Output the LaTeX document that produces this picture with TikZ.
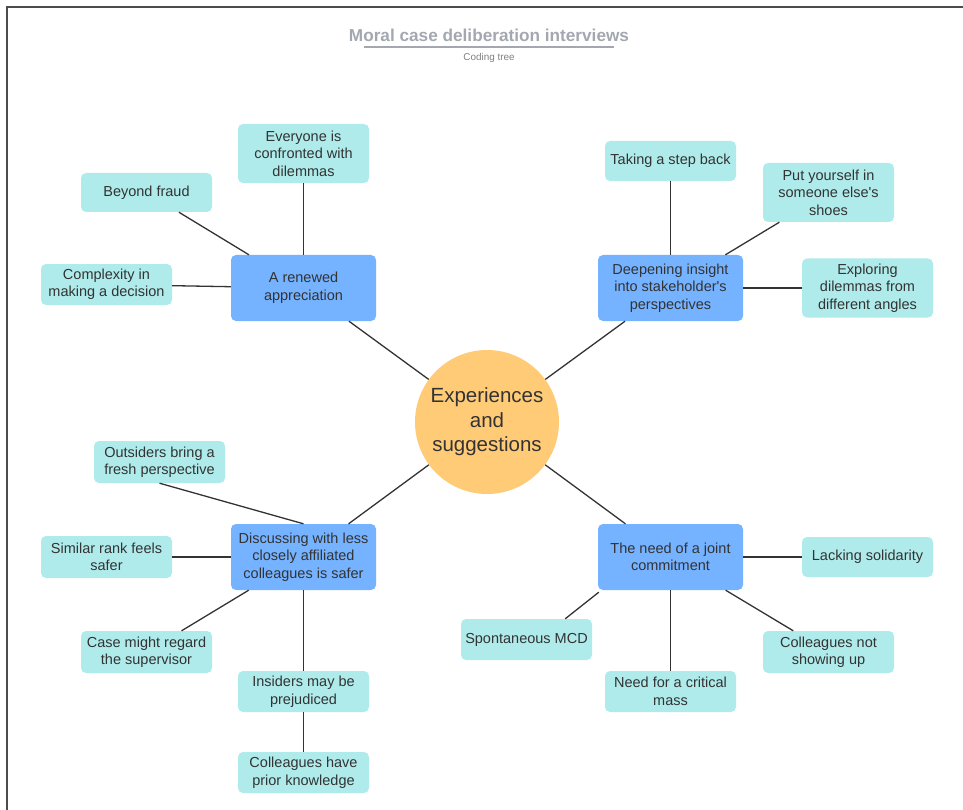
\documentclass[tikz,border=0pt]{standalone}
\usepackage{fontspec}
\setmainfont{Liberation Sans}
\definecolor{boxcyan}{HTML}{AFEBEB}
\definecolor{boxblue}{HTML}{75B2FF}
\definecolor{circorange}{HTML}{FFCB77}
\definecolor{txt}{HTML}{333333}
\definecolor{ttl}{HTML}{A3A7B0}
\definecolor{edge}{HTML}{333333}
\tikzset{
  leaf/.style={fill=boxcyan, rounded corners=5pt, inner sep=0pt, minimum width=131pt, align=center, text=txt, font=\fontsize{14.5}{17.5}\selectfont},
  hub/.style={fill=boxblue, rounded corners=5pt, inner sep=0pt, minimum width=145pt, minimum height=66pt, align=center, text=txt, font=\fontsize{14.5}{17.5}\selectfont},
  core/.style={circle, fill=circorange, inner sep=0pt, minimum size=144pt, align=center, text=txt, font=\fontsize{20.5}{24.5}\selectfont},
  link/.style={draw=edge, line width=1.3pt}
}
\begin{document}
\begin{tikzpicture}[x=1pt,y=-1pt]
\useasboundingbox (0,0) rectangle (963,810);
\draw[draw=black!70, line width=2pt] (7,810) -- (7,7) -- (963,7);
\node[font=\bfseries\fontsize{17.2}{20}\selectfont, text=ttl] (title) at (489,35) {Moral case deliberation interviews};
\draw[draw=ttl, line width=2pt] (364,47) coordinate (ul1) -- (614,47) coordinate (ul2);
\node[font=\fontsize{9.9}{12}\selectfont, text=black!50] (sub) at (489,57.5) {Coding tree};

\node[core] (c) at (487,422) {Experiences\\and\\suggestions};

\node[hub] (ren) at (303.5,288) {A renewed\\appreciation};
\node[hub] (deep) at (670.5,288) {Deepening insight\\into stakeholder\textquotesingle s\\perspectives};
\node[hub] (disc) at (303.5,557) {Discussing with less\\closely affiliated\\colleagues is safer};
\node[hub] (joint) at (670.5,557) {The need of a joint\\commitment};

\node[leaf, minimum height=59pt] (every) at (303.5,153.5) {Everyone is\\confronted with\\dilemmas};
\node[leaf, minimum height=39pt] (fraud) at (146.5,192.5) {Beyond fraud};
\node[leaf, minimum height=41pt] (compl) at (106.5,284.5) {Complexity in\\making a decision};

\node[leaf, minimum height=40pt] (step) at (670.5,161) {Taking a step back};
\node[leaf, minimum height=59pt] (shoes) at (828.5,192.5) {Put yourself in\\someone else\textquotesingle s\\shoes};
\node[leaf, minimum height=59pt] (angles) at (867.5,288) {Exploring\\dilemmas from\\different angles};

\node[leaf, minimum height=42pt] (out) at (159.5,462) {Outsiders bring a\\fresh perspective};
\node[leaf, minimum height=42pt] (rank) at (106.5,557) {Similar rank feels\\safer};
\node[leaf, minimum height=42pt] (super) at (146.5,652) {Case might regard\\the supervisor};
\node[leaf, minimum height=41pt] (ins) at (303.5,691.5) {Insiders may be\\prejudiced};
\node[leaf, minimum height=41pt] (prior) at (303.5,772.5) {Colleagues have\\prior knowledge};

\node[leaf, minimum height=40pt] (solid) at (867.5,557) {Lacking solidarity};
\node[leaf, minimum height=42pt] (show) at (828.5,652) {Colleagues not\\showing up};
\node[leaf, minimum height=41pt] (mass) at (670.5,691.5) {Need for a critical\\mass};
\node[leaf, minimum height=41pt] (spont) at (526.5,639.5) {Spontaneous MCD};

\draw[link] (c) -- (ren);
\draw[link] (c) -- (deep);
\draw[link] (c) -- (disc);
\draw[link] (c) -- (joint);

\draw[link] (every) -- (ren);
\draw[link] (fraud) -- (ren);
\draw[link] (compl) -- (ren);

\draw[link] (step) -- (deep);
\draw[link] (shoes) -- (deep);
\draw[link] (angles) -- (deep);

\draw[link] (out.south) -- (disc.north);
\draw[link] (rank) -- (disc);
\draw[link] (super) -- (disc);
\draw[link] (ins) -- (disc);
\draw[link] (prior) -- (ins);

\draw[link] (solid) -- (joint);
\draw[link] (show) -- (joint);
\draw[link] (mass) -- (joint);
\draw[link] ([xshift=-27pt]spont.north east) -- ([xshift=1pt,yshift=-2pt]joint.south west);
\end{tikzpicture}
\end{document}
